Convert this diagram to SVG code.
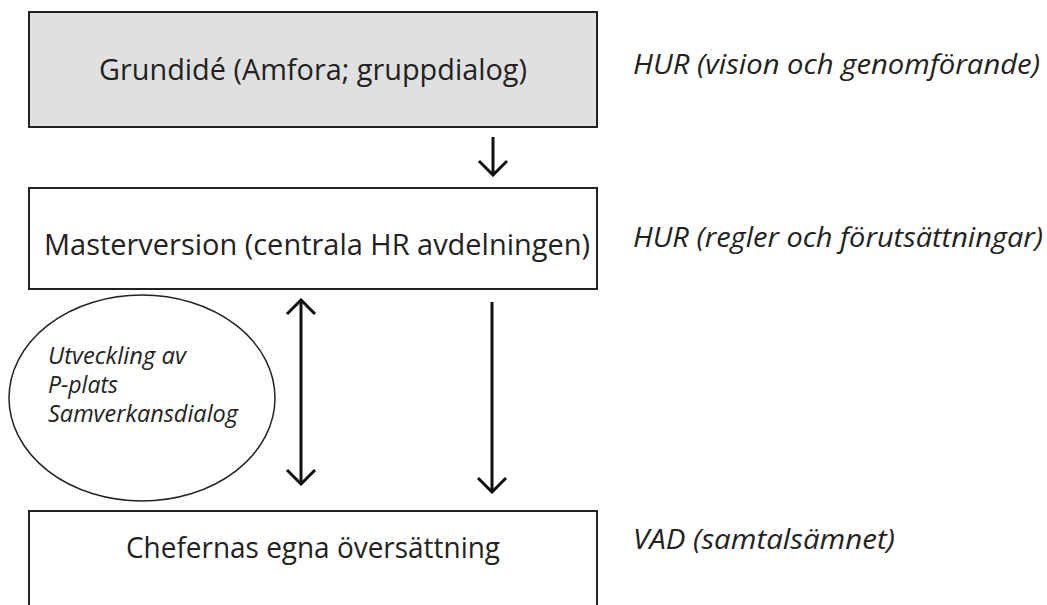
<svg xmlns="http://www.w3.org/2000/svg" width="1047" height="605" viewBox="0 0 1047 605">
<defs>
<style>
.box{stroke:#222;stroke-width:2;}
.t{font-family:"Open Sans","Liberation Sans",sans-serif;font-size:29px;fill:#222;text-anchor:middle;}
.r{font-family:"Open Sans","Liberation Sans",sans-serif;font-size:27px;font-style:italic;fill:#222;}
.e{font-family:"Open Sans","Liberation Sans",sans-serif;font-size:23px;font-style:italic;fill:#222;}
.c{stroke:#111;stroke-width:3;fill:none;}
</style>
<marker id="ah" viewBox="0 0 18 32" refX="16" refY="16" markerWidth="18" markerHeight="32" markerUnits="userSpaceOnUse" orient="auto-start-reverse">
<path d="M2 2 L16 16 L2 30" fill="none" stroke="#111" stroke-width="3"/>
</marker>
</defs>
<rect width="1047" height="605" fill="#fff"/>
<g id="node-grundide">
<rect class="box" x="29" y="12" width="568" height="115" fill="#e0e0e0"/>
<text class="t" x="313" y="80" textLength="428" lengthAdjust="spacingAndGlyphs">Grundidé (Amfora; gruppdialog)</text>
</g>
<g id="node-master">
<rect class="box" x="29" y="188" width="568" height="101" fill="#fff"/>
<text class="t" x="317" y="255" textLength="546" lengthAdjust="spacingAndGlyphs">Masterversion (centrala HR avdelningen)</text>
</g>
<g id="node-chefer">
<rect class="box" x="29" y="511" width="568" height="110" fill="#fff"/>
<text class="t" x="313" y="558" textLength="374" lengthAdjust="spacingAndGlyphs">Chefernas egna översättning</text>
</g>
<g id="node-ellipse">
<ellipse cx="142" cy="398" rx="133" ry="103" fill="#fff" stroke="#222" stroke-width="1.5"/>
<text class="e" x="48" y="364" textLength="138" lengthAdjust="spacingAndGlyphs">Utveckling av</text>
<text class="e" x="48" y="393" textLength="70" lengthAdjust="spacingAndGlyphs">P-plats</text>
<text class="e" x="48" y="422" textLength="190" lengthAdjust="spacingAndGlyphs">Samverkansdialog</text>
</g>
<g id="labels">
<text class="r" x="633" y="74" textLength="407" lengthAdjust="spacingAndGlyphs">HUR (vision och genomförande)</text>
<text class="r" x="633" y="247" textLength="410" lengthAdjust="spacingAndGlyphs">HUR (regler och förutsättningar)</text>
<text class="r" x="633" y="549" textLength="262" lengthAdjust="spacingAndGlyphs">VAD (samtalsämnet)</text>
</g>
<g id="connectors">
<line class="c" x1="493" y1="137" x2="493" y2="175" marker-end="url(#ah)"/>
<line class="c" x1="301" y1="300" x2="301" y2="484" marker-start="url(#ah)" marker-end="url(#ah)"/>
<line class="c" x1="492" y1="302" x2="492" y2="492" marker-end="url(#ah)"/>
</g>
</svg>
